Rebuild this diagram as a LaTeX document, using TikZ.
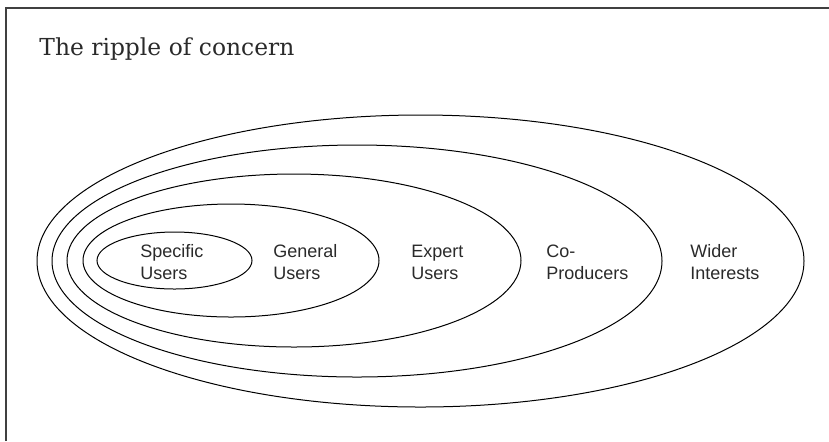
\documentclass[tikz,border=0pt]{standalone}
\usepackage{fontspec}
\setmainfont{Liberation Sans}
\newfontfamily\titlefont{DejaVu Serif}
\definecolor{inkgray}{HTML}{2A2A2A}
\tikzset{
  ring/.style={draw=black, line width=0.5pt},
  ringlabel/.style={anchor=west, align=left, text=inkgray, inner sep=0pt,
    font=\fontsize{9}{11}\selectfont},
}
\begin{document}
\begin{tikzpicture}[x=0.5pt, y=-0.5pt]
    \useasboundingbox (0,0) rectangle (829,441);
    % frame
    \draw[line width=0.8pt, draw=black!75] (6,441) -- (6,8) -- (829,8);
    \node[anchor=base west, inner sep=0pt, text=inkgray, font=\titlefont\fontsize{11.7}{14}\selectfont] (title) at (39,55) {The ripple of concern};
    % rings, outside in
    \draw[ring] (420.5,261) ellipse (383.5 and 146);
    \draw[ring] (357,261) ellipse (305 and 116);
    \draw[ring] (294,260.5) ellipse (227 and 86.5);
    \draw[ring] (231,260.5) ellipse (148 and 56.5);
    \draw[ring] (174.5,260.5) ellipse (77.5 and 28.5);
    % labels
    \node[ringlabel] (specific) at (140,262) {Specific\\Users};
    \node[ringlabel] (general) at (273,262) {General\\Users};
    \node[ringlabel] (expert) at (411,262) {Expert\\Users};
    \node[ringlabel] (coprod) at (546,262) {Co-\\Producers};
    \node[ringlabel] (wider) at (690,262) {Wider\\Interests};
\end{tikzpicture}
\end{document}
